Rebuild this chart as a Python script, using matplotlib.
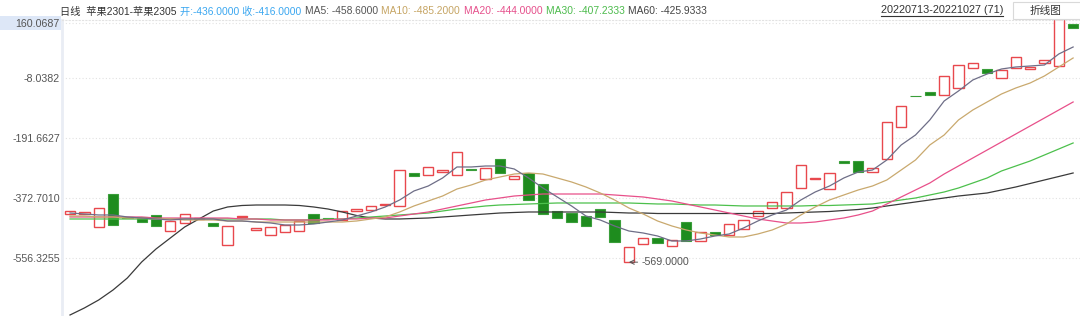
import matplotlib
matplotlib.use('Agg')
import matplotlib.pyplot as plt
from matplotlib.patches import Rectangle
from matplotlib.lines import Line2D

plt.rcParams['font.family'] = ['Liberation Sans', 'Noto Sans CJK SC']

# candle data (spread 苹果2301-苹果2305), 71 days 20220713-20221027
opens = [-422.3, -422.3, -461.9, -361.4, -431.0, -431.4, -425.3, -474.1, -449.7, -439.0,
         -449.7, -516.7, -431.4, -471.0, -486.3, -477.1, -474.1, -422.3, -434.5, -440.6,
         -413.2, -410.1, -394.9, -397.9, -297.4, -303.5, -294.4, -303.5, -285.2, -315.7,
         -254.8, -315.7, -297.4, -330.9, -413.2, -419.3, -428.4, -407.1, -440.6, -569.0,
         -513.7, -495.4, -519.8, -446.7, -504.5, -477.1, -486.3, -468.0, -428.4, -404.0,
         -404.0, -343.1, -315.7, -346.2, -260.9, -260.9, -294.4, -254.8, -157.3, -62.9,
         -50.7, -59.8, -38.5, 22.4, 19.4, -8.0, 22.4, 19.4, 37.7, 28.5,
         156.4]
closes = [-413.2, -416.2, -404.0, -455.8, -433.0, -446.7, -458.8, -443.6, -422.3, -436.0,
          -458.8, -458.8, -428.4, -464.9, -461.9, -455.8, -443.6, -449.7, -437.5, -413.2,
          -408.6, -397.9, -391.8, -288.3, -306.5, -279.1, -288.3, -233.4, -288.3, -282.2,
          -297.4, -306.5, -379.6, -422.3, -434.5, -446.7, -458.8, -431.4, -507.6, -522.8,
          -495.4, -510.6, -501.5, -504.5, -477.1, -486.3, -452.7, -440.6, -413.2, -385.7,
          -355.3, -273.0, -312.6, -297.4, -266.9, -294.4, -282.2, -142.0, -93.3, -64.4,
          -59.8, -1.9, 31.6, 37.7, 7.2, 16.3, 55.9, 25.5, 46.8, 173.0,
          144.3]

ma5 = [-419.2, -422.3, -425.3, -425.3, -431.4, -434.5, -437.5, -440.6, -437.5, -437.5,
       -437.5, -443.6, -443.6, -446.7, -449.7, -455.8, -455.8, -452.7, -446.7, -440.6,
       -428.4, -416.2, -400.9, -379.6, -352.2, -337.0, -312.6, -279.1, -279.1, -276.1,
       -276.1, -285.2, -312.6, -343.1, -370.5, -397.9, -428.4, -440.6, -458.8, -474.1,
       -480.2, -489.3, -504.5, -504.5, -498.4, -489.3, -483.2, -464.9, -443.6, -425.3,
       -410.1, -379.6, -355.3, -337.0, -312.6, -294.4, -288.3, -257.8, -212.1, -181.7,
       -135.9, -78.1, -47.6, -14.1, 4.2, 19.4, 25.5, 28.5, 31.6, 65.1,
       86.4]
ma10 = [-428.4, -428.4, -431.4, -431.4, -434.5, -434.5, -437.5, -437.5, -440.6, -440.6,
        -440.6, -443.6, -443.6, -446.7, -446.7, -446.7, -446.7, -446.7, -446.7, -446.7,
        -443.6, -437.5, -431.4, -416.2, -397.9, -382.7, -367.5, -346.2, -333.9, -318.7,
        -309.6, -300.5, -297.4, -300.5, -312.6, -324.8, -340.0, -358.3, -379.6, -404.0,
        -422.3, -443.6, -458.8, -471.0, -480.2, -486.3, -492.3, -492.3, -483.2, -471.0,
        -452.7, -425.3, -400.9, -379.6, -364.4, -349.2, -337.0, -318.7, -288.3, -257.8,
        -212.1, -181.7, -135.9, -105.5, -81.1, -56.8, -38.5, -23.3, -1.9, 25.5,
        52.9]
ma20 = [-431.4, -431.4, -431.4, -431.4, -431.4, -431.4, -434.5, -434.5, -434.5, -434.5,
        -434.5, -434.5, -437.5, -437.5, -440.6, -440.6, -440.6, -440.6, -440.6, -437.5,
        -437.5, -434.5, -434.5, -428.4, -422.3, -416.2, -407.1, -397.9, -388.8, -379.6,
        -373.6, -367.5, -364.4, -361.4, -361.4, -361.4, -361.4, -361.4, -364.4, -367.5,
        -370.5, -376.6, -382.7, -391.8, -400.9, -410.1, -419.3, -428.4, -437.5, -443.6,
        -449.7, -449.7, -446.7, -440.6, -434.5, -425.3, -413.2, -391.8, -370.5, -349.2,
        -327.9, -300.5, -276.1, -251.7, -227.4, -203.0, -178.6, -154.2, -129.9, -105.5,
        -81.1]
ma30 = [-437.5, -437.5, -437.5, -437.5, -437.5, -437.5, -437.5, -437.5, -437.5, -437.5,
        -437.5, -437.5, -437.5, -437.5, -437.5, -440.6, -440.6, -440.6, -437.5, -437.5,
        -434.5, -431.4, -428.4, -425.3, -422.3, -419.3, -413.2, -407.1, -402.5, -397.9,
        -394.9, -393.4, -391.8, -390.3, -388.8, -388.8, -388.8, -388.8, -388.8, -388.8,
        -390.3, -391.8, -391.8, -393.4, -394.9, -394.9, -396.4, -397.9, -397.9, -397.9,
        -397.9, -397.9, -396.4, -396.4, -394.9, -393.4, -391.8, -385.7, -379.6, -373.6,
        -364.4, -355.3, -343.1, -327.9, -312.6, -291.3, -276.1, -260.9, -242.6, -224.3,
        -206.0]
ma60 = [-729.9, -708.6, -684.2, -653.8, -617.2, -568.5, -528.9, -495.4, -461.9, -437.5,
        -413.2, -400.9, -396.4, -394.9, -394.9, -394.9, -396.4, -400.9, -407.1, -416.2,
        -426.9, -434.5, -437.5, -437.5, -436.0, -434.5, -431.4, -428.4, -425.3, -422.3,
        -419.3, -417.7, -416.2, -416.2, -416.2, -416.2, -416.2, -416.2, -417.7, -419.3,
        -419.3, -420.8, -420.8, -420.8, -420.8, -420.8, -420.8, -420.8, -420.8, -420.8,
        -419.3, -417.7, -416.2, -414.7, -411.6, -408.6, -404.0, -397.9, -391.8, -385.7,
        -379.6, -373.6, -367.5, -362.9, -358.3, -349.2, -340.0, -329.4, -318.7, -308.1,
        -297.4]

y_ticks = [160.0687, -8.0382, -191.6627, -372.7010, -556.3255]
header = [('日线  苹果2301-苹果2305', '#333333'),
          ('开:-436.0000 收:-416.0000', '#3ba7f0'),
          ('MA5: -458.6000', '#555555'),
          ('MA10: -485.2000', '#c6a564'),
          ('MA20: -444.0000', '#e6508c'),
          ('MA30: -407.2333', '#4cbb4c'),
          ('MA60: -425.9333', '#444444')]
date_range = '20220713-20221027 (71)'

W, H = 1080, 316
fig = plt.figure(figsize=(10.8, 3.16), dpi=100)
ax = fig.add_axes([62 / W, 0, 1 - 62 / W, 1 - 20 / H])
ax.set_xlim(-0.56, 70.48)
ax.set_ylim(-733.0, 168.6)

idx = list(range(len(opens)))
red, green = '#e8484d', '#1e8c1e'
for i, o, c in zip(idx, opens, closes):
    lo, hi = min(o, c), max(o, c)
    h = max(hi - lo, 1.5)
    if c >= o:
        ax.bar(i, h, bottom=lo, width=0.72, facecolor='white', edgecolor=red, lw=1.0, zorder=2)
    else:
        ax.bar(i, h, bottom=lo, width=0.72, facecolor=green, edgecolor='#3a9e3a', lw=0.8, zorder=2)

ax.plot(idx, ma60, color='#3a3a3a', lw=0.9, zorder=3)
ax.plot(idx, ma30, color='#4cc04c', lw=0.9, zorder=3)
ax.plot(idx, ma20, color='#e8508a', lw=0.9, zorder=3)
ax.plot(idx, ma10, color='#c9a96e', lw=0.9, zorder=3)
ax.plot(idx, ma5, color='#6e6e87', lw=0.9, zorder=3)

ax.set_xticks([])
ax.set_yticks(y_ticks)
ax.set_yticklabels([f'{v:.4f}' for v in y_ticks])
ax.tick_params(axis='y', length=0, pad=1.5, labelsize=7.7, labelcolor='#555555')
ax.yaxis.grid(True, linestyle=(0, (1, 2)), color='#e2e2e2', lw=0.8)
ax.set_axisbelow(True)
for s in ['right', 'bottom']:
    ax.spines[s].set_visible(False)
ax.spines['top'].set_linestyle((0, (1, 2)))
ax.spines['top'].set_color('#e2e2e2')
ax.spines['top'].set_linewidth(0.8)
ax.spines['left'].set_color('#e9edf4')
ax.spines['left'].set_linewidth(2)

# highlight behind the top y label
fig.add_artist(Rectangle((0, 1 - 30 / H), 61 / W, 14 / H, transform=fig.transFigure,
                         facecolor='#dde7f7', edgecolor='none', zorder=-1))

# annotations for max / min
ax.annotate('173.0000', xy=(69, 173.0), xytext=(68.1, 153.0), ha='right', va='center',
            fontsize=7.7, color='#555555',
            arrowprops=dict(arrowstyle='->', color='#555555', lw=0.7, shrinkA=1, shrinkB=0))
ax.annotate('-569.0000', xy=(39, -569.0), xytext=(39.9, -569.0), ha='left', va='center',
            fontsize=7.7, color='#555555',
            arrowprops=dict(arrowstyle='->', color='#555555', lw=0.7, shrinkA=1, shrinkB=0))

# header line
renderer = fig.canvas.get_renderer()
x = 60
for s, col in header:
    t = fig.text(x / W, 1 - 11.5 / H, s, color=col, fontsize=7.35, ha='left', va='center')
    bb = t.get_window_extent(renderer)
    x += bb.width + 3.5

t = fig.text(1003 / W, 1 - 10 / H, date_range, color='#333333', fontsize=7.8, ha='right', va='center')
bb = t.get_window_extent(renderer)
fig.add_artist(Line2D([bb.x0 / W, bb.x1 / W], [1 - 16 / H, 1 - 16 / H], transform=fig.transFigure,
                      color='#333333', lw=0.8))

fig.add_artist(Rectangle((1013 / W, 1 - 19 / H), 70 / W, 17 / H, transform=fig.transFigure,
                         facecolor='white', edgecolor='#d9d9d9', lw=0.8))
fig.text(1046 / W, 1 - 10.5 / H, '折线图', color='#333333', fontsize=7.7, ha='center', va='center')

fig.savefig('out.png', dpi=100, facecolor='white')
